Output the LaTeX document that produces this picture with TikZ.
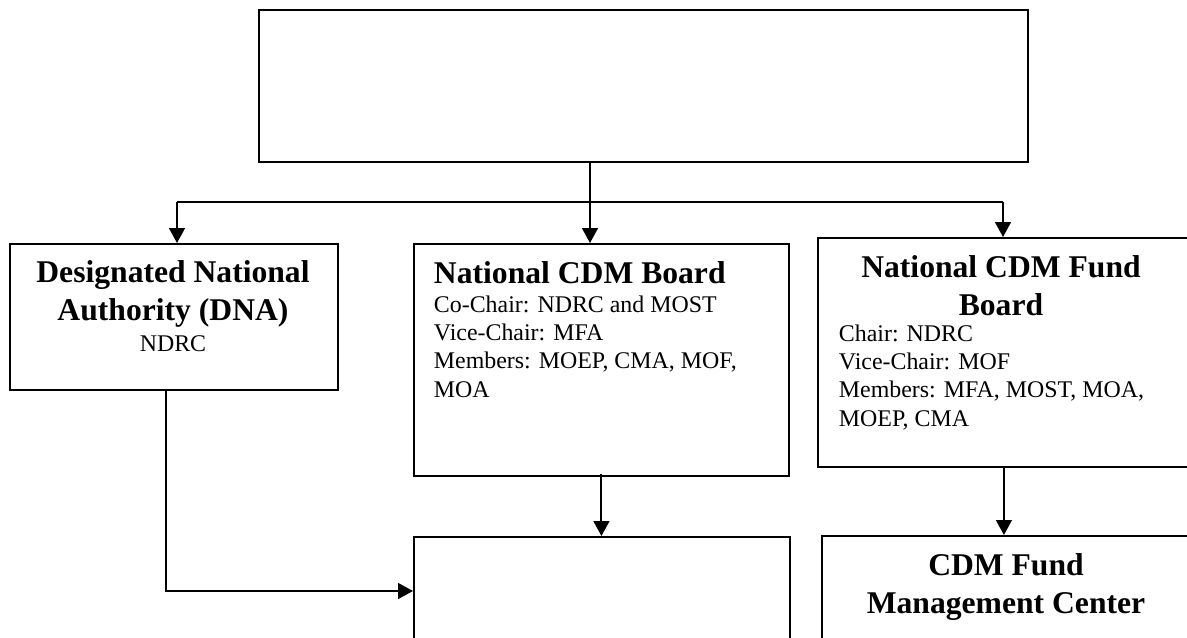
\documentclass[tikz,border=0pt]{standalone}
\usepackage{fontspec}
\setmainfont{Liberation Serif}
\usetikzlibrary{arrows.meta, positioning}

\newcommand{\headfont}{\fontsize{18}{21.6}\selectfont\bfseries}
\newcommand{\bodyfont}{\fontsize{13.6}{16}\selectfont}

\begin{document}
\begin{tikzpicture}[
            x = 0.02cm, y = -0.02cm, % one unit = one pixel of the sketch
            > = {Triangle[length=8.5pt, width=9pt]}, % arrow head style
            line width = 1.1pt
        ]

        \tikzstyle{box}=[
            draw = black,
            rectangle,
            inner sep = 0pt,
            anchor = north west
        ]
        \tikzstyle{head}=[font = \headfont, align = center, inner sep = 0pt]
        \tikzstyle{body}=[font = \bodyfont, align = left, inner sep = 0pt]

        \useasboundingbox (0,0) rectangle (1187,637);
        \clip (0,0) rectangle (1187,637);

        % boxes
        \node[box, minimum width = 15.38cm, minimum height = 3.04cm] (top) at (258,9) {};
        \node[box, minimum width = 6.56cm, minimum height = 2.92cm] (dna) at (9,243) {};
        \node[box, minimum width = 7.5cm, minimum height = 4.64cm] (board) at (413,243) {};
        \node[box, minimum width = 7.44cm, minimum height = 4.58cm] (fund) at (817,237) {};
        \node[box, minimum width = 7.52cm, minimum height = 3.2cm] (office) at (413,536) {};
        \node[box, minimum width = 7.4cm, minimum height = 3.2cm] (center) at (821,535) {};

        % texts (base = baseline of the last line)
        \node[head, anchor = base] (dnahead) at (173,320) {Designated National\\Authority (DNA)};
        \node[body, anchor = base] (dnabody) at (173,351) {NDRC};
        \node[head, anchor = base west] (boardhead) at (433,283) {National CDM Board};
        \node[body, anchor = base west] (boardbody) at (433,397)
            {Co-Chair: NDRC and MOST\\Vice-Chair: MFA\\Members: MOEP, CMA, MOF,\\MOA};
        \node[head, anchor = base] (fundhead) at (1001,315) {National CDM Fund\\Board};
        \node[body, anchor = base west] (fundbody) at (838,426)
            {Chair: NDRC\\Vice-Chair: MOF\\Members: MFA, MOST, MOA,\\MOEP, CMA};
        \node[head, anchor = base] (centerhead) at (1006,613) {CDM Fund\\Management Center};

        % connectors
        \coordinate (split) at (590,202);
        \coordinate (jl) at (177,202);
        \coordinate (jr) at (1003,202);
        \coordinate (bend) at (166,591);

        \draw (top.south -| split) -- (split);
        \draw (jl) -- (jr);
        \draw[->] (jl) -- (jl |- dna.north);
        \draw[->] (split) -- (split |- board.north);
        \draw[->] (jr) -- (jr |- fund.north);

        \draw[->] (dna.south -| bend) -- (bend) -- (bend -| office.west);
        \draw[->] ([yshift=1.7pt]board.south) -- (board.south |- office.north);
        \draw[->] (fund.south) -- (fund.south |- center.north);
    \end{tikzpicture}
\end{document}
